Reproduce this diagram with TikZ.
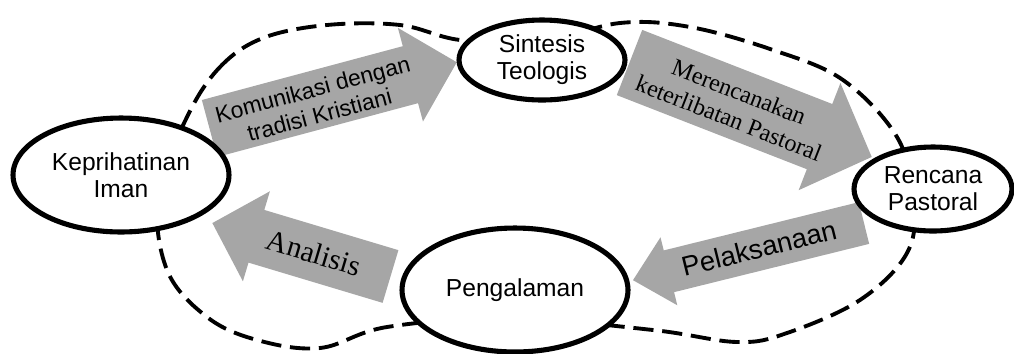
\documentclass[tikz,border=0pt]{standalone}
\usepackage{fontspec}
\setmainfont{Liberation Serif}
\setsansfont{Liberation Sans}
\usetikzlibrary{shapes.geometric}
\definecolor{arrowgray}{HTML}{A6A6A6}
\tikzset{
  stage/.style={ellipse, draw=black, line width=2.9pt, fill=white, align=center,
    inner sep=0pt, font=\sffamily\fontsize{14}{15.4}\selectfont},
  cycleline/.style={draw=black, line width=2.2pt, dash pattern=on 11.5pt off 5pt},
  blockfill/.style={fill=arrowgray},
  armlabel/.style={align=center, inner sep=0pt}
}
% #1 tail x, #2 tail y, #3 angle, #4 length, #5 shaft width, #6 head width, #7 head length
\newcommand{\blockarrow}[7]{%
  \begin{scope}[shift={(#1,#2)}, rotate=#3]
    \fill[blockfill] (0,-#5/2) -- ({#4-#7},-#5/2) -- ({#4-#7},-#6/2) -- (#4,0)
      -- ({#4-#7},#6/2) -- ({#4-#7},#5/2) -- (0,#5/2) -- cycle;
  \end{scope}}
\begin{document}
\begin{tikzpicture}[x=0.02cm, y=-0.02cm]
\useasboundingbox (0,0) rectangle (1014,353);

% dashed cycle
\draw[cycleline] plot[smooth cycle, tension=0.6] coordinates {
  (187,117) (220,67) (263,38) (327,25) (400,25) (460,40) (540,42) (620,23)
  (690,27) (773,50) (843,80) (897,137) (914,200) (907,253) (860,300)
  (787,333) (737,342) (653,330) (510,318) (387,327) (320,348) (257,340)
  (207,317) (167,270) (158,195)};

% block arrows
\blockarrow{209.5}{128.5}{15}{256}{59}{97}{48}
\blockarrow{629.5}{62.5}{-21.3}{260}{70}{115}{56}
\blockarrow{864}{223}{193.9}{238}{43}{70}{37}
\blockarrow{390.5}{276.5}{163.3}{186}{55}{94}{46}

% arrow labels
\node[armlabel, rotate=15, font=\sffamily\fontsize{13}{15}\selectfont] (lk) at (316,102)
  {Komunikasi dengan\\tradisi Kristiani};
\node[armlabel, rotate=-21.3, font=\fontsize{13.7}{16}\selectfont] (lm) at (734,105)
  {Merencanakan\\keterlibatan Pastoral};
\node[armlabel, rotate=13.9, font=\sffamily\fontsize{15.6}{17}\selectfont] (lp) at (759,248)
  {Pelaksanaan};
\node[armlabel, rotate=-16.7, font=\fontsize{16.8}{18}\selectfont] (la) at (314,253)
  {Analisis};

% stages
\node[stage, minimum width=4.32cm, minimum height=2.28cm] (iman) at (121,175) {Keprihatinan\\Iman};
\node[stage, minimum width=3.32cm, minimum height=1.6cm] (sint) at (542,60) {Sintesis\\Teologis};
\node[stage, minimum width=3.16cm, minimum height=1.68cm] (renc) at (933,189) {Rencana\\Pastoral};
\node[stage, minimum width=4.52cm, minimum height=2.48cm] (peng) at (515,290) {Pengalaman};
\end{tikzpicture}
\end{document}
